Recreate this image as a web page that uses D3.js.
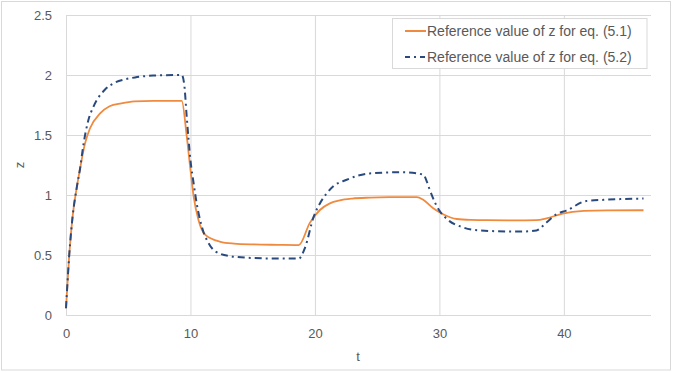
<!DOCTYPE html>
<html>
<head>
<meta charset="utf-8">
<script src="https://cdnjs.cloudflare.com/ajax/libs/d3/7.8.5/d3.min.js"></script>
<style>
    body { margin: 0; background: #fff; }
    text { font-family: "Liberation Sans", Arial, sans-serif; fill: #595959; }
</style>
</head>
<body>
<svg id="chart"></svg>
<script>
// series 1 - eq. (5.1)
var t1 = [0, 0.26, 0.53, 0.86, 1.13, 1.53, 1.93, 2.74, 3.5, 4.45, 5.5, 7, 9.3, 9.7, 10.0, 10.25, 10.65, 11.2, 12.4, 13.5, 15.1, 17, 18.7,
    19.6, 20.4, 21.2, 22.0, 23, 24.4, 26, 28.2, 28.7, 29.5, 30.3, 31.4, 32.5, 33.8, 36, 37.8, 38.6, 39.9, 41.6, 43.5, 46.4];
var z1 = [0.056, 0.5, 0.82, 1.06, 1.22, 1.43, 1.556, 1.68, 1.74, 1.764, 1.78, 1.785, 1.785, 1.49, 1.21, 0.99, 0.79, 0.667, 0.61, 0.595, 0.588, 0.585, 0.583,
    0.77, 0.875, 0.93, 0.955, 0.97, 0.978, 0.982, 0.983, 0.96, 0.89, 0.84, 0.80, 0.792, 0.79, 0.788, 0.79, 0.805, 0.845, 0.867, 0.872, 0.873];

// series 2 - eq. (5.2)
var t2 = [0, 0.26, 0.53, 0.86, 1.13, 1.4, 1.8, 2.2, 3.1, 3.9, 4.75, 5.55, 7, 9.3, 9.5, 9.7, 10.0, 10.25, 10.5, 10.9, 11.45, 12.0, 13.2, 15.0, 17, 18.7,
    19.2, 19.9, 20.4, 21.0, 21.5, 22.5, 24.4, 27.1, 28.7, 29.0, 29.2, 30.0, 30.6, 31.9, 33.2, 36.4, 37.8, 38.6, 39.4, 40.2, 41.8, 43.2, 46.4];
var z2 = [0.056, 0.5, 0.82, 1.06, 1.22, 1.42, 1.625, 1.735, 1.875, 1.935, 1.964, 1.98, 1.995, 2.0, 1.92, 1.65, 1.29, 1.1, 0.93, 0.74, 0.6, 0.53, 0.49, 0.475, 0.47, 0.47,
    0.56, 0.82, 0.93, 1.02, 1.075, 1.125, 1.18, 1.19, 1.17, 1.11, 1.05, 0.87, 0.8, 0.73, 0.705, 0.695, 0.705, 0.77, 0.84, 0.87, 0.95, 0.96, 0.97];

var xTicks = [0, 10, 20, 30, 40];
var yTicks = [0, 0.5, 1, 1.5, 2, 2.5];
var seriesNames = ["Reference value of z for eq. (5.1)", "Reference value of z for eq. (5.2)"];

var width = 676,
    height = 372;
var margin = { top: 15, right: 25, bottom: 57, left: 66 };

var svg = d3.select("#chart")
    .attr("width", width)
    .attr("height", height);

// outer chart border
svg.append("rect")
    .attr("x", 1.5).attr("y", 1.5)
    .attr("width", 669).attr("height", 368.5)
    .attr("fill", "#fff")
    .attr("stroke", "#d9d9d9");

var x = d3.scaleLinear().domain([0, 47]).range([margin.left, width - margin.right]);
var y = d3.scaleLinear().domain([0, 2.5]).range([height - margin.bottom, margin.top]);

// gridlines
svg.append("g")
    .attr("transform", "translate(0," + margin.top + ")")
    .call(d3.axisBottom(x).tickValues(xTicks).tickSize(height - margin.top - margin.bottom).tickFormat(""))
    .call(function (g) { g.select(".domain").remove(); })
    .selectAll("line").attr("stroke", "#d9d9d9");

svg.append("g")
    .attr("transform", "translate(" + margin.left + ",0)")
    .call(d3.axisRight(y).tickValues(yTicks).tickSize(width - margin.left - margin.right).tickFormat(""))
    .call(function (g) { g.select(".domain").remove(); })
    .selectAll("line").attr("stroke", "#d9d9d9");

// tick labels
var xAxis = svg.append("g")
    .attr("transform", "translate(0," + (height - margin.bottom) + ")")
    .call(d3.axisBottom(x).tickValues(xTicks).tickSize(0).tickPadding(14));
xAxis.select(".domain").remove();
xAxis.selectAll("text").style("font-size", "13px").attr("fill", "#595959");

var yAxis = svg.append("g")
    .attr("transform", "translate(" + margin.left + ",0)")
    .call(d3.axisLeft(y).tickValues(yTicks).tickSize(0).tickPadding(14).tickFormat(d3.format("")));
yAxis.select(".domain").remove();
yAxis.selectAll("text").style("font-size", "13px").attr("fill", "#595959");

// axis titles
svg.append("text")
    .attr("x", 358).attr("y", 361)
    .attr("text-anchor", "middle")
    .style("font-size", "13px")
    .text("t");

svg.append("text")
    .attr("transform", "translate(24,165) rotate(-90)")
    .attr("text-anchor", "middle")
    .style("font-size", "13px")
    .text("z");

// lines
var line = d3.line()
    .x(function (d) { return x(d[0]); })
    .y(function (d) { return y(d[1]); })
    .curve(d3.curveMonotoneX);

var data1 = t1.map(function (t, i) { return [t, z1[i]]; });
var data2 = t2.map(function (t, i) { return [t, z2[i]]; });

svg.append("path")
    .datum(data1)
    .attr("d", line)
    .attr("fill", "none")
    .attr("stroke", "#F08A3E")
    .attr("stroke-width", 1.8);

svg.append("path")
    .datum(data2)
    .attr("d", line)
    .attr("fill", "none")
    .attr("stroke", "#2A4A7E")
    .attr("stroke-width", 2)
    .attr("stroke-dasharray", "7,4,2,4");

// legend
var legend = svg.append("g");
legend.append("rect")
    .attr("x", 392.5).attr("y", 18.5)
    .attr("width", 254.5).attr("height", 50)
    .attr("fill", "#fff")
    .attr("stroke", "#d9d9d9");

var styles = [
    { color: "#F08A3E", dash: null },
    { color: "#2A4A7E", dash: "5,4,2,4" }
];

seriesNames.forEach(function (name, i) {
    var ly = 31 + i * 26;
    legend.append("line")
        .attr("x1", 405).attr("x2", 426)
        .attr("y1", ly).attr("y2", ly)
        .attr("stroke", styles[i].color)
        .attr("stroke-width", 2)
        .attr("stroke-dasharray", styles[i].dash);
    legend.append("text")
        .attr("x", 427).attr("y", ly + 5)
        .style("font-size", "14px")
        .text(name);
});
</script>
</body>
</html>
